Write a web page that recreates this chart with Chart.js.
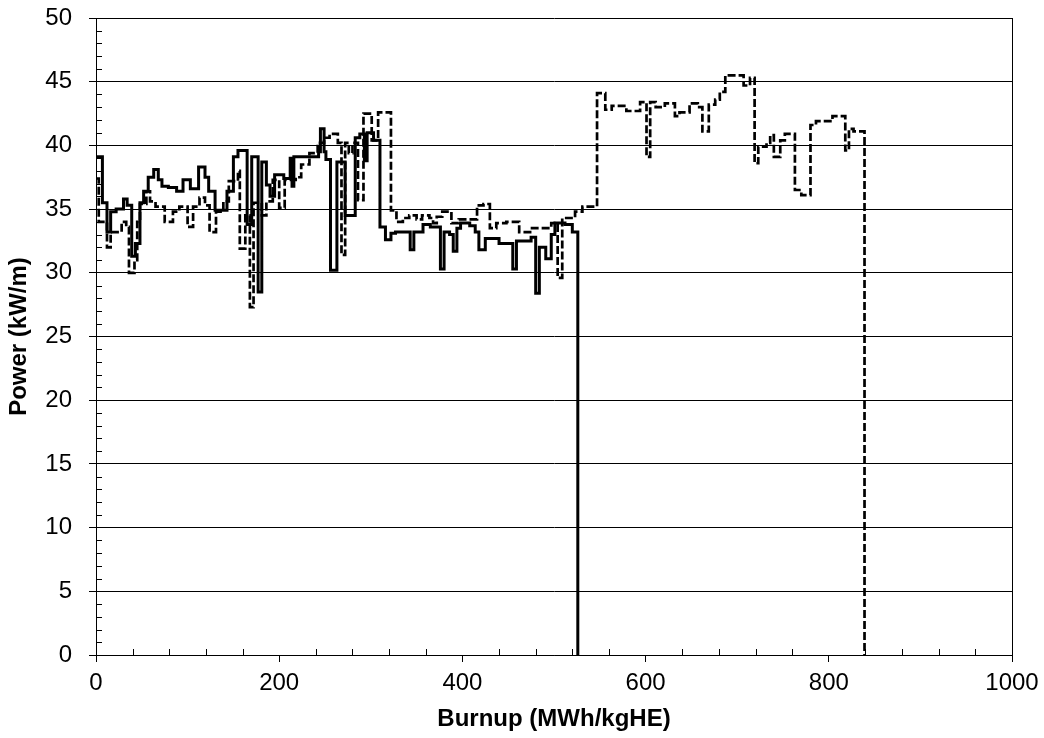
<!DOCTYPE html>
<html>
<head>
<meta charset="utf-8">
<script src="https://cdn.jsdelivr.net/npm/chart.js@4/dist/chart.umd.min.js"></script>
<style>
html,body{margin:0;padding:0;background:#fff;}
#wrap{width:1044px;height:738px;position:relative;}
</style>
</head>
<body>
<div id="wrap"><canvas id="c" width="1044" height="738"></canvas></div>
<script>
// Solid series: burnup (MWh/kgHE) where each step starts, and power (kW/m)
const solidBurnup = [0,7,12,16,22,30,34,39,43,48,52,57,63,68,72,79,88,95,103,112,119,123,130,143,150,155,165,170,177,181,186,190,195,205,212,214,216,243,245,249,251,256,263,272,283,288,293,296,303,310,316,322,327,343,347,357,365,376,380,386,390,394,398,408,414,418,425,440,455,459,475,480,484,491,497,501,512,520,526];
const solidPower  = [39.1,35.5,33.2,34.8,35.0,35.8,35.3,31.3,32.3,35.5,36.4,37.5,38.1,37.3,36.8,36.7,36.4,37.3,36.6,38.3,37.5,36.4,34.9,36.4,39.1,39.6,33.8,39.1,28.5,38.7,36.9,36.0,37.7,37.4,39.0,36.8,39.1,39.5,41.3,39.5,38.9,30.2,38.7,34.5,40.6,40.9,38.8,41.0,40.4,33.6,32.6,33.1,33.2,31.8,33.2,33.8,33.6,30.3,33.2,33.0,31.7,33.5,33.9,33.7,33.2,31.8,32.7,32.3,30.3,32.5,32.8,28.4,32.0,31.1,33.0,33.9,33.8,33.2,0];

// Dashed series
const dashBurnup = [0,3,12,16,28,33,36,42,45,48,55,59,65,75,84,91,100,106,113,119,124,131,139,145,155,157,163,168,172,181,186,193,200,206,218,224,233,242,249,255,264,268,272,276,280,283,286,292,301,308,322,328,335,342,350,356,364,368,372,378,388,396,416,423,430,437,448,462,476,497,504,509,523,531,547,556,563,579,594,601,605,611,621,632,637,648,657,662,669,676,681,687,707,714,719,723,732,736,740,747,752,763,770,780,786,804,818,822,827,839];
const dashPower  = [37.4,34.0,32.0,33.2,34.0,33.6,30.0,31.0,34.0,35.4,36.4,35.6,35.2,34.0,34.8,35.2,33.6,35.2,35.9,35.3,33.2,34.8,35.6,37.2,38.0,31.9,34.5,27.3,35.5,34.5,35.6,37.3,35.1,37.3,37.5,38.5,39.4,40.2,40.6,40.9,40.2,31.4,40.2,39.4,40.2,40.2,35.7,42.5,40.4,42.6,34.9,34.0,34.3,34.5,34.2,34.5,34.3,33.9,34.4,34.8,33.9,34.2,35.3,35.4,33.5,33.9,34.0,33.2,33.5,33.9,29.6,34.3,34.8,35.2,44.1,42.8,43.1,42.7,43.4,39.1,43.4,43.0,43.3,42.3,42.6,43.3,43.0,41.1,43.2,43.6,44.2,45.5,44.7,45.3,38.6,39.9,40.2,40.8,39.1,40.4,40.9,36.5,36.1,41.6,41.9,42.3,39.6,41.3,41.1,0];

const xTickStep = 40, xMajor = 200;
const yTickStep = 1, yMajor = 5;

const toPts = (xs, ys) => xs.map((x, i) => ({x: x, y: ys[i]}));

const FONT = 'Liberation Sans, Arial, sans-serif';

const minorTicks = {
  id: 'minorTicks',
  afterDatasetsDraw(chart) {
    const ctx = chart.ctx, xs = chart.scales.x, ys = chart.scales.y, a = chart.chartArea;
    ctx.save();
    ctx.strokeStyle = '#000';
    ctx.lineWidth = 1;
    ctx.beginPath();
    xs.ticks.forEach(t => {
      if (t.value % xMajor !== 0) {
        const px = Math.round(xs.getPixelForValue(t.value)) + 0.5;
        ctx.moveTo(px, a.bottom); ctx.lineTo(px, a.bottom - 6);
      }
    });
    ys.ticks.forEach(t => {
      if (t.value % yMajor !== 0) {
        const py = Math.round(ys.getPixelForValue(t.value)) + 0.5;
        ctx.moveTo(a.left, py); ctx.lineTo(a.left + 6, py);
      }
    });
    ctx.stroke();
    ctx.restore();
  }
};

new Chart(document.getElementById('c'), {
  type: 'line',
  data: {
    datasets: [
      {
        label: 'solid',
        data: toPts(solidBurnup, solidPower),
        stepped: 'before',
        borderColor: '#000',
        borderWidth: 3,
        pointRadius: 0,
        fill: false
      },
      {
        label: 'dashed',
        data: toPts(dashBurnup, dashPower),
        stepped: 'before',
        borderColor: '#000',
        borderWidth: 2.7,
        borderDash: [8, 3],
        pointRadius: 0,
        fill: false
      }
    ]
  },
  options: {
    responsive: false,
    animation: false,
    layout: { padding: { left: 0, right: 32, top: 18, bottom: 0 } },
    plugins: { legend: { display: false }, tooltip: { enabled: false } },
    scales: {
      x: {
        type: 'linear',
        min: 0, max: 1000,
        afterFit: s => { s.height = 83; s.paddingLeft = 0; s.paddingRight = 0; },
        border: { display: true, color: '#000', width: 1 },
        grid: {
          drawOnChartArea: true,
          color: c => (c.tick && c.tick.value === 1000) ? '#000' : 'rgba(0,0,0,0)',
          tickColor: c => (c.tick && c.tick.value % xMajor === 0) ? '#000' : 'rgba(0,0,0,0)',
          tickLength: 7,
          lineWidth: 1
        },
        ticks: {
          stepSize: xTickStep,
          autoSkip: false,
          maxRotation: 0,
          padding: 7,
          color: '#000',
          font: { family: FONT, size: 24 },
          callback: v => (v % xMajor === 0 ? String(v) : '')
        },
        title: {
          display: true,
          text: 'Burnup (MWh/kgHE)',
          color: '#000',
          font: { family: FONT, size: 24, weight: 'bold' },
          padding: { top: 0, bottom: 4 }
        }
      },
      y: {
        min: 0, max: 50,
        afterFit: s => { s.width = 96; s.paddingTop = 0; s.paddingBottom = 0; },
        border: { display: true, color: '#000', width: 1 },
        grid: {
          drawOnChartArea: true,
          color: c => (c.tick && c.tick.value % yMajor === 0) ? '#000' : 'rgba(0,0,0,0)',
          tickColor: c => (c.tick && c.tick.value % yMajor === 0) ? '#000' : 'rgba(0,0,0,0)',
          tickLength: 7,
          lineWidth: 1
        },
        ticks: {
          stepSize: yTickStep,
          autoSkip: false,
          padding: 17,
          color: '#000',
          font: { family: FONT, size: 24 },
          callback: v => (v % yMajor === 0 ? String(v) : '')
        },
        title: {
          display: true,
          text: 'Power (kW/m)',
          color: '#000',
          font: { family: FONT, size: 24, weight: 'bold' },
          padding: { top: 5, bottom: 0 }
        }
      }
    }
  },
  plugins: [minorTicks]
});
</script>
</body>
</html>
